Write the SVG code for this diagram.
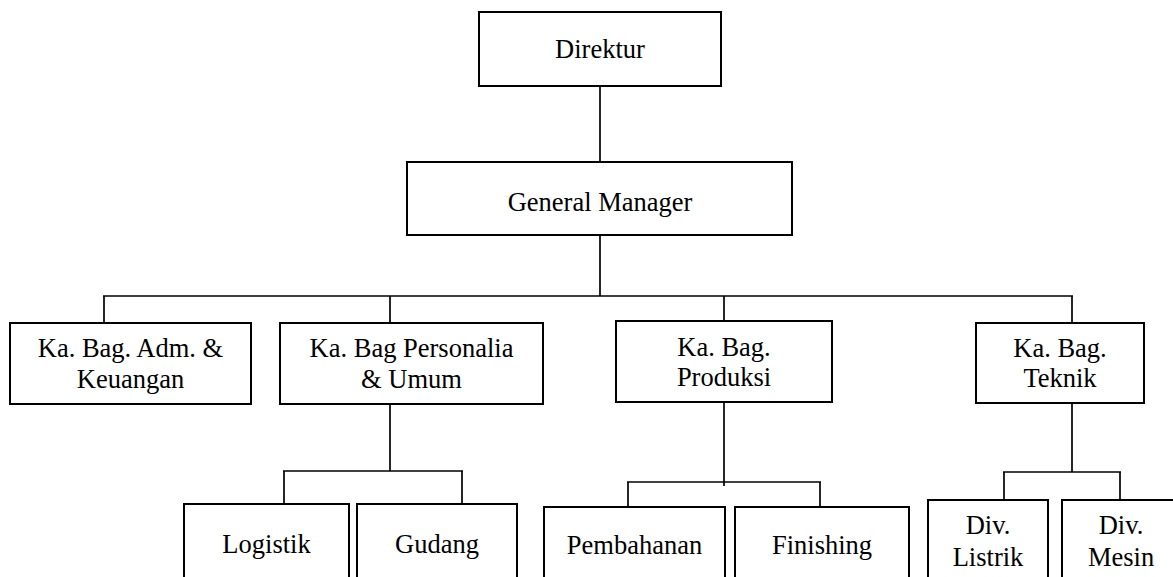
<svg xmlns="http://www.w3.org/2000/svg" width="1173" height="577" viewBox="0 0 1173 577">
<style>
.box{fill:#fff;stroke:#000;stroke-width:2}
.t{font-family:'Liberation Serif','Times New Roman','DejaVu Serif',serif;font-size:26.5px;fill:#000;text-anchor:middle}
.c line{stroke:#000;stroke-width:1.7}
</style>
<rect width="1173" height="577" fill="#fff"/>
<g class="c" id="connectors">
<line x1="600" y1="86" x2="600" y2="162"/>
<line x1="600" y1="235" x2="600" y2="296"/>
<line x1="103" y1="296" x2="1073" y2="296"/>
<line x1="104" y1="296" x2="104" y2="323"/>
<line x1="390" y1="296" x2="390" y2="323"/>
<line x1="724" y1="296" x2="724" y2="321"/>
<line x1="1072" y1="296" x2="1072" y2="323"/>
<line x1="390" y1="404" x2="390" y2="471"/>
<line x1="283" y1="471" x2="463" y2="471"/>
<line x1="284" y1="471" x2="284" y2="504"/>
<line x1="462" y1="471" x2="462" y2="504"/>
<line x1="724" y1="402" x2="724" y2="486"/>
<line x1="627" y1="482" x2="821" y2="482"/>
<line x1="628" y1="482" x2="628" y2="507"/>
<line x1="820" y1="482" x2="820" y2="507"/>
<line x1="1072" y1="403" x2="1072" y2="472"/>
<line x1="1003" y1="472" x2="1121" y2="472"/>
<line x1="1004" y1="472" x2="1004" y2="500"/>
<line x1="1120" y1="472" x2="1120" y2="500"/>
</g>
<g id="direktur"><rect class="box" x="479" y="12" width="242" height="74"/><text class="t" x="600" y="58" font-family="Liberation Serif">Direktur</text></g>
<g id="gm"><rect class="box" x="407" y="162" width="385" height="73"/><text class="t" x="600" y="211">General Manager</text></g>
<g id="adm"><rect class="box" x="10" y="323" width="241" height="81"/><text class="t" x="130.5" y="357">Ka. Bag. Adm. &amp;</text><text class="t" x="130.5" y="388">Keuangan</text></g>
<g id="personalia"><rect class="box" x="280" y="323" width="263" height="81"/><text class="t" x="411.5" y="357">Ka. Bag Personalia</text><text class="t" x="411.5" y="388">&amp; Umum</text></g>
<g id="produksi"><rect class="box" x="616" y="321" width="216" height="81"/><text class="t" x="724" y="356">Ka. Bag.</text><text class="t" x="724" y="386">Produksi</text></g>
<g id="teknik"><rect class="box" x="976" y="323" width="168" height="80"/><text class="t" x="1060" y="357">Ka. Bag.</text><text class="t" x="1060" y="387">Teknik</text></g>
<g id="logistik"><rect class="box" x="184" y="504" width="165" height="80"/><text class="t" x="266.5" y="553">Logistik</text></g>
<g id="gudang"><rect class="box" x="357" y="504" width="160" height="80"/><text class="t" x="437" y="553">Gudang</text></g>
<g id="pembahanan"><rect class="box" x="544" y="507" width="181" height="80"/><text class="t" x="634.5" y="554">Pembahanan</text></g>
<g id="finishing"><rect class="box" x="735" y="507" width="174" height="80"/><text class="t" x="822" y="554">Finishing</text></g>
<g id="listrik"><rect class="box" x="928" y="500" width="120" height="84"/><text class="t" x="988" y="534">Div.</text><text class="t" x="988" y="566">Listrik</text></g>
<g id="mesin"><rect class="box" x="1062" y="500" width="118" height="84"/><text class="t" x="1121" y="534">Div.</text><text class="t" x="1121" y="566">Mesin</text></g>
</svg>
